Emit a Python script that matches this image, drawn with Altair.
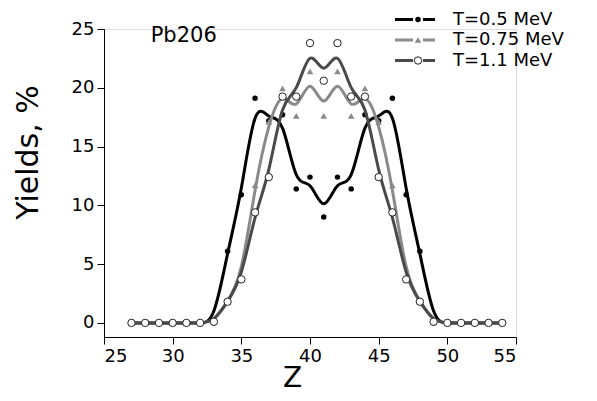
import altair as alt
import pandas as pd

# ---- data ----
Z = list(range(27, 55))
y_05 = [0, 0, 0, 0, 0, 0, 0.0, 6.1, 10.9, 19.1, 17.2, 17.7, 11.4, 12.4, 9.0,
        12.4, 11.4, 17.7, 17.2, 19.1, 10.9, 6.1, 0.0, 0.0, 0, 0, 0, 0]
y_075 = [0, 0, 0, 0, 0, 0, 0.1, 1.8, 3.8, 11.7, 17.1, 19.95, 17.6, 21.4, 17.6,
         21.4, 17.6, 19.95, 17.1, 11.7, 3.8, 1.8, 0.1, 0, 0, 0, 0, 0]
y_11 = [0, 0, 0, 0, 0, 0, 0.1, 1.8, 3.7, 9.4, 12.4, 19.25, 19.25, 23.8, 20.6,
        23.8, 19.25, 19.25, 12.4, 9.4, 3.7, 1.8, 0.1, 0, 0, 0, 0, 0]
labels = ["T=0.5 MeV", "T=0.75 MeV", "T=1.1 MeV"]
x_ticks = [25 + 2.5 * i for i in range(13)]
y_ticks = [2.5 * i for i in range(11)]

FONT = "DejaVu Sans"
colors = ["#000000", "#8a8a8a", "#4a4a4a"]

series = [y_05, y_075, y_11]
frames = []
for lab, ys in zip(labels, series):
    frames.append(pd.DataFrame({"Z": Z, "Yield": ys, "series": lab}))

leg = pd.DataFrame({"series": labels, "ly": [-9.5 + 20.5 * i for i in range(3)]})

x_enc = alt.X(
    "Z:Q",
    scale=alt.Scale(domain=[25, 55], nice=False, zero=False),
    axis=alt.Axis(
        values=x_ticks,
        labelExpr="datum.value % 5 === 0 ? datum.label : ''",
        tickSize={"condition": {"test": "datum.value % 5 === 0", "value": 7}, "value": 4},
        grid=False, title="Z", labelFont=FONT, labelFontSize=18, labelColor="#000",
        titleFont=FONT, titleFontSize=28, titleFontWeight="normal", titleColor="#000",
        titleX=188, titleY=55, titleBaseline="bottom", titleAlign="center",
        labelPadding=3, domainColor="#000", tickColor="#000", labelOverlap=False,
    ),
)
y_enc = alt.Y(
    "Yield:Q",
    scale=alt.Scale(domain=[-1.2, 25], nice=False, zero=False),
    axis=alt.Axis(
        values=y_ticks,
        labelExpr="datum.value % 5 === 0 ? datum.label : ''",
        tickSize={"condition": {"test": "datum.value % 5 === 0", "value": 7}, "value": 4},
        grid=False, title="Yields, %", labelFont=FONT, labelFontSize=18, labelColor="#000",
        titleFont=FONT, titleFontSize=30, titleFontWeight="normal", titleColor="#000",
        titleX=-76, titleY=123, titleBaseline="middle", titleAlign="center", titleAngle=270,
        labelPadding=3, domainColor="#000", tickColor="#000", labelOverlap=False,
    ),
)

def marker(i, data, enc):
    if i == 0:
        m = alt.Chart(data).mark_point(shape="circle", filled=True, fill="#000", stroke="#000",
                                       strokeWidth=0, size=30, opacity=1)
    elif i == 1:
        m = alt.Chart(data).mark_point(shape="triangle-up", filled=True, fill=colors[1],
                                       strokeWidth=0, size=44, opacity=1)
    else:
        m = alt.Chart(data).mark_point(shape="circle", filled=True, fill="#ffffff", stroke="#222222",
                                       strokeWidth=1, size=55, opacity=1)
    return m.encode(**enc)

layers = []
for i, df in enumerate(frames):
    line = alt.Chart(df).mark_line(interpolate="basis", color=colors[i], strokeWidth=3).encode(
        x=x_enc, y=y_enc)
    layers.append(line)
    layers.append(marker(i, df, {"x": "Z:Q", "y": "Yield:Q"}))

# legend (line - marker - line)
for i, lab in enumerate(labels):
    ld = leg[leg.series == lab]
    ly = alt.Y("ly:Q", scale=None)
    layers.append(alt.Chart(ld).mark_rule(color=colors[i], strokeWidth=3).encode(
        x=alt.value(291), x2=alt.value(309), y=ly))
    layers.append(alt.Chart(ld).mark_rule(color=colors[i], strokeWidth=3).encode(
        x=alt.value(319), x2=alt.value(331), y=ly))
    layers.append(marker(i, ld, {"x": alt.value(314), "y": ly}))
    layers.append(alt.Chart(ld).mark_text(align="left", baseline="middle", font=FONT,
                                          fontSize=18, color="#000").encode(
        x=alt.value(349), y=ly, text="series:N"))

note = pd.DataFrame({"Z": [28.4], "Yield": [24.4], "t": ["Pb206"]})
layers.append(alt.Chart(note).mark_text(align="left", baseline="middle", font=FONT,
                                        fontSize=21, color="#000").encode(
    x="Z:Q", y="Yield:Q", text="t:N"))

chart = alt.layer(*layers).properties(
    width=412, height=308,
    autosize=alt.AutoSizeParams(type="none"),
    padding={"left": 96, "top": 21, "right": 72, "bottom": 56},
).configure_view(stroke=None).configure(background="white")

chart.save("out.html", embed_options={"renderer": "svg", "actions": False})
